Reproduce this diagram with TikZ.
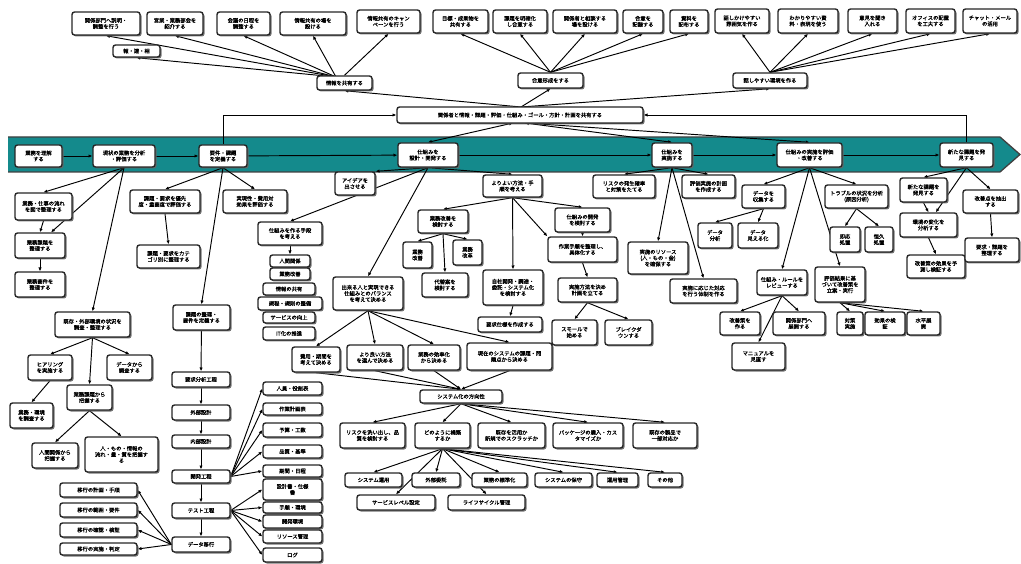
\documentclass[tikz,border=0pt]{standalone}
\usepackage{fontspec}
\newfontfamily\jp{Noto Sans CJK JP}[AutoFakeBold=1.2]
\usetikzlibrary{arrows.meta,shadows,calc}
\pgfdeclarelayer{bandlayer}
\pgfdeclarelayer{edgelayer}
\pgfsetlayers{bandlayer,edgelayer,main}
\definecolor{bandcol}{RGB}{20,138,140}
\tikzset{
 box/.style={draw=black!85, line width=1.4pt, rounded corners=2.5pt, fill=white, inner sep=0.5pt, align=center,
   font=\jp\bfseries\fontsize{5.3}{6.1}\selectfont,
   drop shadow={shadow xshift=1.5pt, shadow yshift=-1.5pt, fill=black!60, opacity=0.9}},
 arr/.style={-{Latex[length=3.8pt,width=3.4pt]}, line width=0.95pt, black},
 darr/.style={{Latex[length=3.8pt,width=3.4pt]}-{Latex[length=3.8pt,width=3.4pt]}, line width=0.95pt, black},
}
\newcommand\nbox[6]{\node[box,minimum width={(#4-#2)*1pt},minimum height={(#5-#3)*1pt}] (#1) at ({(#2+#4)/2},{(#3+#5)/2}) {#6};}
\begin{document}
\begin{tikzpicture}[x=1pt,y=-1pt]
\useasboundingbox (0,0) rectangle (1021,564);
\begin{pgfonlayer}{bandlayer}
\fill[bandcol] (8,137) -- (1000,137) -- (1020,154.5) -- (1000,172) -- (8,172) -- cycle;
\draw[black!75, line width=1.3pt] (8,137) -- (1000,137) -- (1020,154.5) -- (1000,172) -- (8,172);
\end{pgfonlayer}

% main band
\nbox{n1}{15}{145}{62}{167}{業務を理解\\する}
\nbox{n2}{93}{145}{155}{167}{現状の業務を分析\\・評価する}
\nbox{n3}{199}{145}{247}{167}{要件・課題\\を定義する}
\nbox{n4}{398}{143}{458}{167}{仕組みを\\設計・開発する}
\nbox{n5}{652}{143}{692}{167}{仕組みを\\実施する}
\nbox{n6}{777}{143}{842}{167}{仕組みの実施を評価\\・改善する}
\nbox{n7}{940}{143}{993}{167}{新たな課題を発\\見する}

% shared
\nbox{sh}{397}{107}{643}{123}{関係者と情報・課題・評価・仕組み・ゴール・方針・計画を共有する}
\nbox{hub1}{317}{76}{372}{90}{情報を共有する}
\nbox{hub2}{518}{73}{583}{88}{合意形成をする}
\nbox{hub3}{733}{73}{807}{88}{話しやすい環境を作る}

\nbox{C1a}{72}{12}{140}{35}{関係部門へ説明・\\調整を行う}
\nbox{C1b}{113}{45}{160}{57}{報・連・相}
\nbox{C1c}{147}{12}{203}{35}{営業・業務部会を\\紹介する}
\nbox{C1d}{217}{12}{270}{35}{会議の日程を\\調整する}
\nbox{C1e}{280}{12}{346}{35}{情報共有の場を\\設ける}
\nbox{C1f}{357}{10}{420}{33}{情報共有のキャン\\ペーンを行う}
\nbox{C2a}{433}{10}{488}{33}{目標・成果物を\\共有する}
\nbox{C2b}{493}{10}{547}{33}{課題を明確化\\し合意する}
\nbox{C2c}{553}{10}{617}{33}{関係者と相談する\\場を設ける}
\nbox{C2d}{623}{10}{663}{33}{合意を\\記録する}
\nbox{C2e}{670}{10}{708}{33}{資料を\\配布する}
\nbox{C3a}{715}{9}{769}{33}{話しかけやすい\\雰囲気を作る}
\nbox{C3b}{778}{9}{838}{33}{わかりやすい資\\料・表現を使う}
\nbox{C3c}{848}{9}{897}{33}{意見を聞き\\入れる}
\nbox{C3d}{906}{9}{955}{33}{オフィスの配置\\を工夫する}
\nbox{C3e}{963}{9}{1017}{33}{チャット・メール\\の活用}

% node2 branch
\nbox{D1}{15}{193}{72}{220}{業務・仕事の流れ\\を図で整理する}
\nbox{D2}{15}{233}{65}{258}{業務課題を\\整理する}
\nbox{D3}{15}{272}{65}{297}{業務要件を\\整理する}
\nbox{D4}{55}{312}{130}{337}{既存・外部環境の状況を\\調査・整理する}
\nbox{E1}{28}{355}{72}{380}{ヒアリング\\を実施する}
\nbox{E2}{107}{355}{152}{380}{データから\\調査する}
\nbox{E3}{67}{385}{112}{410}{業務課題から\\把握する}
\nbox{E4}{10}{403}{53}{428}{業務・環境\\を調査する}
\nbox{E5}{32}{443}{78}{468}{人間関係から\\把握する}
\nbox{E6}{85}{437}{158}{472}{人・もの・情報の\\流れ・量・質を把握す\\る}

% node3 branch
\nbox{F1}{130}{190}{200}{213}{課題・要求を優先\\度・重要度で評価する}
\nbox{F2}{223}{190}{287}{213}{実現性・費用対\\効果を評価する}
\nbox{F3}{137}{245}{200}{268}{課題・要求をカテ\\ゴリ別に整理する}
\nbox{F4}{173}{305}{230}{330}{課題の整理・\\要件を定義する}
\nbox{G1}{172}{372}{230}{387}{要求分析工程}
\nbox{G2}{172}{405}{230}{420}{外部設計}
\nbox{G3}{172}{435}{230}{448}{内部設計}
\nbox{G4}{172}{470}{230}{483}{開発工程}
\nbox{G5}{172}{503}{230}{518}{テスト工程}
\nbox{G6}{172}{537}{230}{552}{データ移行}
\nbox{H1}{263}{382}{322}{395}{人員・役割表}
\nbox{H2}{263}{403}{322}{415}{作業計画表}
\nbox{H3}{263}{423}{322}{437}{予算・工数}
\nbox{H4}{263}{445}{322}{458}{品質・基準}
\nbox{H5}{263}{465}{322}{477}{期間・日程}
\nbox{H6}{263}{479}{322}{500}{設計書・仕様\\書}
\nbox{H7}{263}{502}{322}{513}{手順・環境}
\nbox{H8}{263}{515}{322}{528}{開発環境}
\nbox{H9}{263}{530}{322}{543}{リソース管理}
\nbox{H10}{263}{548}{322}{562}{ログ}
\nbox{I1}{60}{483}{137}{497}{移行の計画・手順}
\nbox{I2}{60}{503}{137}{517}{移行の範囲・要件}
\nbox{I3}{60}{523}{137}{537}{移行の確認・検証}
\nbox{I4}{60}{543}{137}{555}{移行の実施・判定}

% node4 branch
\nbox{J1}{335}{172}{375}{195}{アイデアを\\出させる}
\nbox{J2}{258}{222}{322}{245}{仕組みを作る手段\\を考える}
\nbox{K1}{270}{255}{310}{267}{人間関係}
\nbox{K2}{270}{268}{310}{280}{業務改善}
\nbox{K3}{263}{283}{315}{295}{情報の共有}
\nbox{K4}{258}{297}{322}{310}{規程・規則の整備}
\nbox{K5}{263}{312}{315}{323}{サービスの向上}
\nbox{K6}{263}{327}{315}{340}{IT化の推進}
\nbox{J3}{333}{277}{403}{310}{出来る人と実現できる\\仕組みとのバランス\\を考えて決める}
\nbox{L1}{292}{347}{340}{372}{費用・期間を\\考えて決める}
\nbox{L2}{347}{345}{403}{370}{より良い方法\\を選んで決める}
\nbox{L3}{408}{345}{460}{370}{業務の効率化\\から決める}
\nbox{L4}{467}{343}{552}{370}{現在のシステムの課題・問\\題点から決める}
\nbox{M}{420}{390}{502}{403}{システム化の方向性}
\nbox{N1}{340}{423}{405}{448}{リスクを洗い出し、品\\質を検討する}
\nbox{N2}{415}{423}{470}{448}{どのように構築\\するか}
\nbox{N3}{478}{423}{545}{448}{既存を活用か\\新規でのスクラッチか}
\nbox{N4}{553}{423}{623}{448}{パッケージの購入・カス\\タマイズか}
\nbox{N5}{633}{423}{697}{448}{既存の製品で\\一部対応か}
\nbox{O1}{345}{473}{402}{487}{システム運用}
\nbox{O2}{412}{473}{460}{487}{外部委託}
\nbox{O3}{472}{473}{527}{487}{業務の標準化}
\nbox{O4}{535}{473}{592}{487}{システムの保守}
\nbox{O5}{597}{473}{638}{487}{運用管理}
\nbox{O6}{648}{473}{682}{487}{その他}
\nbox{O7}{357}{495}{435}{510}{サービスレベル設定}
\nbox{O8}{448}{495}{525}{510}{ライフサイクル管理}
\nbox{J4}{483}{175}{542}{197}{よりよい方法・手\\順を考える}
\nbox{P1}{418}{210}{468}{233}{業務改善を\\検討する}
\nbox{Q1}{403}{242}{432}{268}{業務\\改善}
\nbox{Q2}{422}{273}{468}{297}{代替案を\\検討する}
\nbox{Q3}{453}{240}{482}{265}{業務\\改革}
\nbox{P2}{483}{270}{543}{305}{自社開発・調達・\\委託・システム化\\を検討する}
\nbox{P5}{478}{317}{542}{332}{要求仕様を作成する}
\nbox{P3}{555}{208}{610}{232}{仕組みの開発\\を検討する}
\nbox{P4}{548}{237}{617}{262}{作業手順を整理し、\\具体化する}
\nbox{P6}{558}{278}{617}{302}{実施方法を決め\\計画を立てる}
\nbox{P7}{552}{320}{597}{345}{スモールで\\始める}
\nbox{P8}{605}{320}{652}{345}{ブレイクダ\\ウンする}

% node5 branch
\nbox{R1}{593}{175}{655}{198}{リスクの発生確率\\と対策をたてる}
\nbox{R2}{682}{175}{735}{198}{評価実施の計画\\を作成する}
\nbox{R3}{628}{242}{688}{274}{実施のリソース\\(人・もの・金)\\を確保する}
\nbox{R4}{670}{279}{737}{303}{実施に応じた対応\\を行う体制を作る}

% node6 branch
\nbox{S1}{742}{185}{785}{208}{データを\\収集する}
\nbox{S2}{825}{185}{888}{208}{トラブルの状況を分析\\(原因分析)}
\nbox{S1a}{698}{223}{732}{248}{データ\\分析}
\nbox{S1b}{738}{223}{778}{248}{データ\\見える化}
\nbox{S2a}{830}{227}{860}{252}{即応\\処置}
\nbox{S2b}{865}{227}{893}{252}{恒久\\処置}
\nbox{S3}{757}{270}{807}{295}{仕組み・ルールを\\レビューする}
\nbox{S4}{815}{267}{865}{302}{評価結果に基\\づいて改善策を\\立案・実行}
\nbox{S3a}{720}{312}{760}{335}{改善策を\\作る}
\nbox{S3b}{773}{312}{825}{335}{関係部門へ\\展開する}
\nbox{S3c}{732}{343}{785}{370}{マニュアルを\\見直す}
\nbox{S4a}{837}{312}{863}{335}{対策\\実施}
\nbox{S4b}{865}{312}{905}{335}{効果の検\\証}
\nbox{S4c}{907}{312}{940}{335}{水平展\\開}

% node7 branch
\nbox{T1}{900}{178}{947}{202}{新たな課題を\\発見する}
\nbox{T2}{963}{190}{1018}{213}{改善点を抽出\\する}
\nbox{T3}{900}{213}{957}{237}{環境の変化を\\分析する}
\nbox{T4}{907}{255}{965}{278}{改善策の効果を予\\測し検証する}
\nbox{T5}{965}{238}{1019}{262}{要求・課題を\\整理する}

\coordinate (shT) at (521,107);
\coordinate (shB1) at (513,123);
\coordinate (shB2) at (525,123);
\coordinate (h1o) at (336,77);

\begin{pgfonlayer}{edgelayer}
\foreach \a/\b in {n1/n2,n2/n3,n3/n4,n4/n5,n5/n6,n6/n7} \draw[arr] (\a) -- (\b);
\draw[arr] (n3.north) |- (sh.west);
\draw[arr] (n7.north) |- (sh.east);
\draw[arr] (shT) -- (hub1.south);
\draw[arr] (shT) -- (hub2.south);
\draw[arr] (shT) -- (hub3.south);
\draw[darr] (shB1) -- (n4.north);
\draw[darr] (shB2) -- (n5.north);
\draw[arr] (shB2) -- (n6.north);
\foreach \c in {C1a,C1b,C1c,C1d,C1e} \draw[arr] (h1o) -- (\c.south);
\draw[arr] (hub1.north) -- (C1f.south);
\foreach \c in {C2a,C2b,C2c,C2d,C2e} \draw[arr] (hub2.north) -- (\c.south);
\foreach \c in {C3a,C3b,C3c,C3d,C3e} \draw[arr] (hub3.north) -- (\c.south);
% node2
\draw[arr] (n2.south) -- (D1.north);
\draw[arr] (n2.south) -- (D2.50);
\draw[arr] (D1.south) -- (D2.north);
\draw[arr] (D2.south) -- (D3.north);
\draw[arr] (n2.south) -- (D4.north);
\foreach \e in {E1,E2,E3} \draw[arr] (D4.south) -- (\e.north);
\draw[arr] (E1.south) -- (E4.north);
\draw[arr] (E3.south) -- (E5.north);
\draw[arr] (E3.south) -- (E6.north);
% node3
\foreach \f in {F1,F2,F4} \draw[arr] (n3.south) -- (\f.north);
\draw[arr] (F1.south) -- (F3.north);
\foreach \a/\b in {F4/G1,G1/G2,G2/G3,G3/G4,G4/G5,G5/G6} \draw[arr] (\a) -- (\b);
\foreach \h in {H1,H2,H3,H4,H5} \draw[arr] (G4.east) -- (\h.west);
\foreach \h in {H6,H7,H8,H9,H10} \draw[arr] (G5.east) -- (\h.west);
\foreach \i in {I1,I2,I3,I4} \draw[arr] (G6.west) -- (\i.east);
% node4
\draw[arr] (n4.south) -- (J1.north east);
\foreach \j in {J2,J3,J4} \draw[arr] (n4.south) -- (\j.north);
\draw[arr] (J2.south) -- (K1.north);
\foreach \l in {L1,L2,L3,L4} {\draw[arr] (J3.south) -- (\l.north); \draw[arr] (\l.south) -- (M.north);}
\foreach \n in {N1,N2,N3,N4,N5} \draw[arr] (M.south) -- (\n.north);
\foreach \o in {O1,O2,O3,O4,O5,O6,O7,O8} \draw[arr] (N2.south) -- (\o.north);
\foreach \p in {P1,P2,P3} \draw[arr] (J4.south) -- (\p.north);
\draw[arr] (J4.south) -- (P4.north west);
\draw[arr] (P3.south) -- (P4.north);
\foreach \q in {Q1,Q2,Q3} \draw[arr] (P1.south) -- (\q.north);
\draw[arr] (P2.south) -- (P5.north);
\draw[arr] (P4.south) -- (P6.north);
\draw[arr] (P6.south) -- (P7.north);
\draw[arr] (P6.south) -- (P8.north);
% node5
\foreach \r in {R1,R2,R3,R4} \draw[arr] (n5.south) -- (\r.north);
% node6
\foreach \s in {S1,S2,S3,S4} \draw[arr] (n6.south) -- (\s.north);
\draw[arr] (S1.south) -- (S1a.north); \draw[arr] (S1.south) -- (S1b.north);
\draw[arr] (S2.south) -- (S2a.north); \draw[arr] (S2.south) -- (S2b.north);
\foreach \s in {S3a,S3b,S3c} \draw[arr] (S3.south) -- (\s.north);
\foreach \s in {S4a,S4b,S4c} \draw[arr] (S4.south) -- (\s.north);
% node7
\draw[arr] (n7.south) -- (T1.north);
\draw[arr] (n7.south) -- (T2.north);
\draw[arr] (n7.south) -- (T3.60);
\draw[arr] (T1.south) -- (T3.north);
\draw[arr] (T3.south) -- (T4.north);
\draw[arr] (T2.south) -- (T5.north);
\end{pgfonlayer}
\end{tikzpicture}
\end{document}
